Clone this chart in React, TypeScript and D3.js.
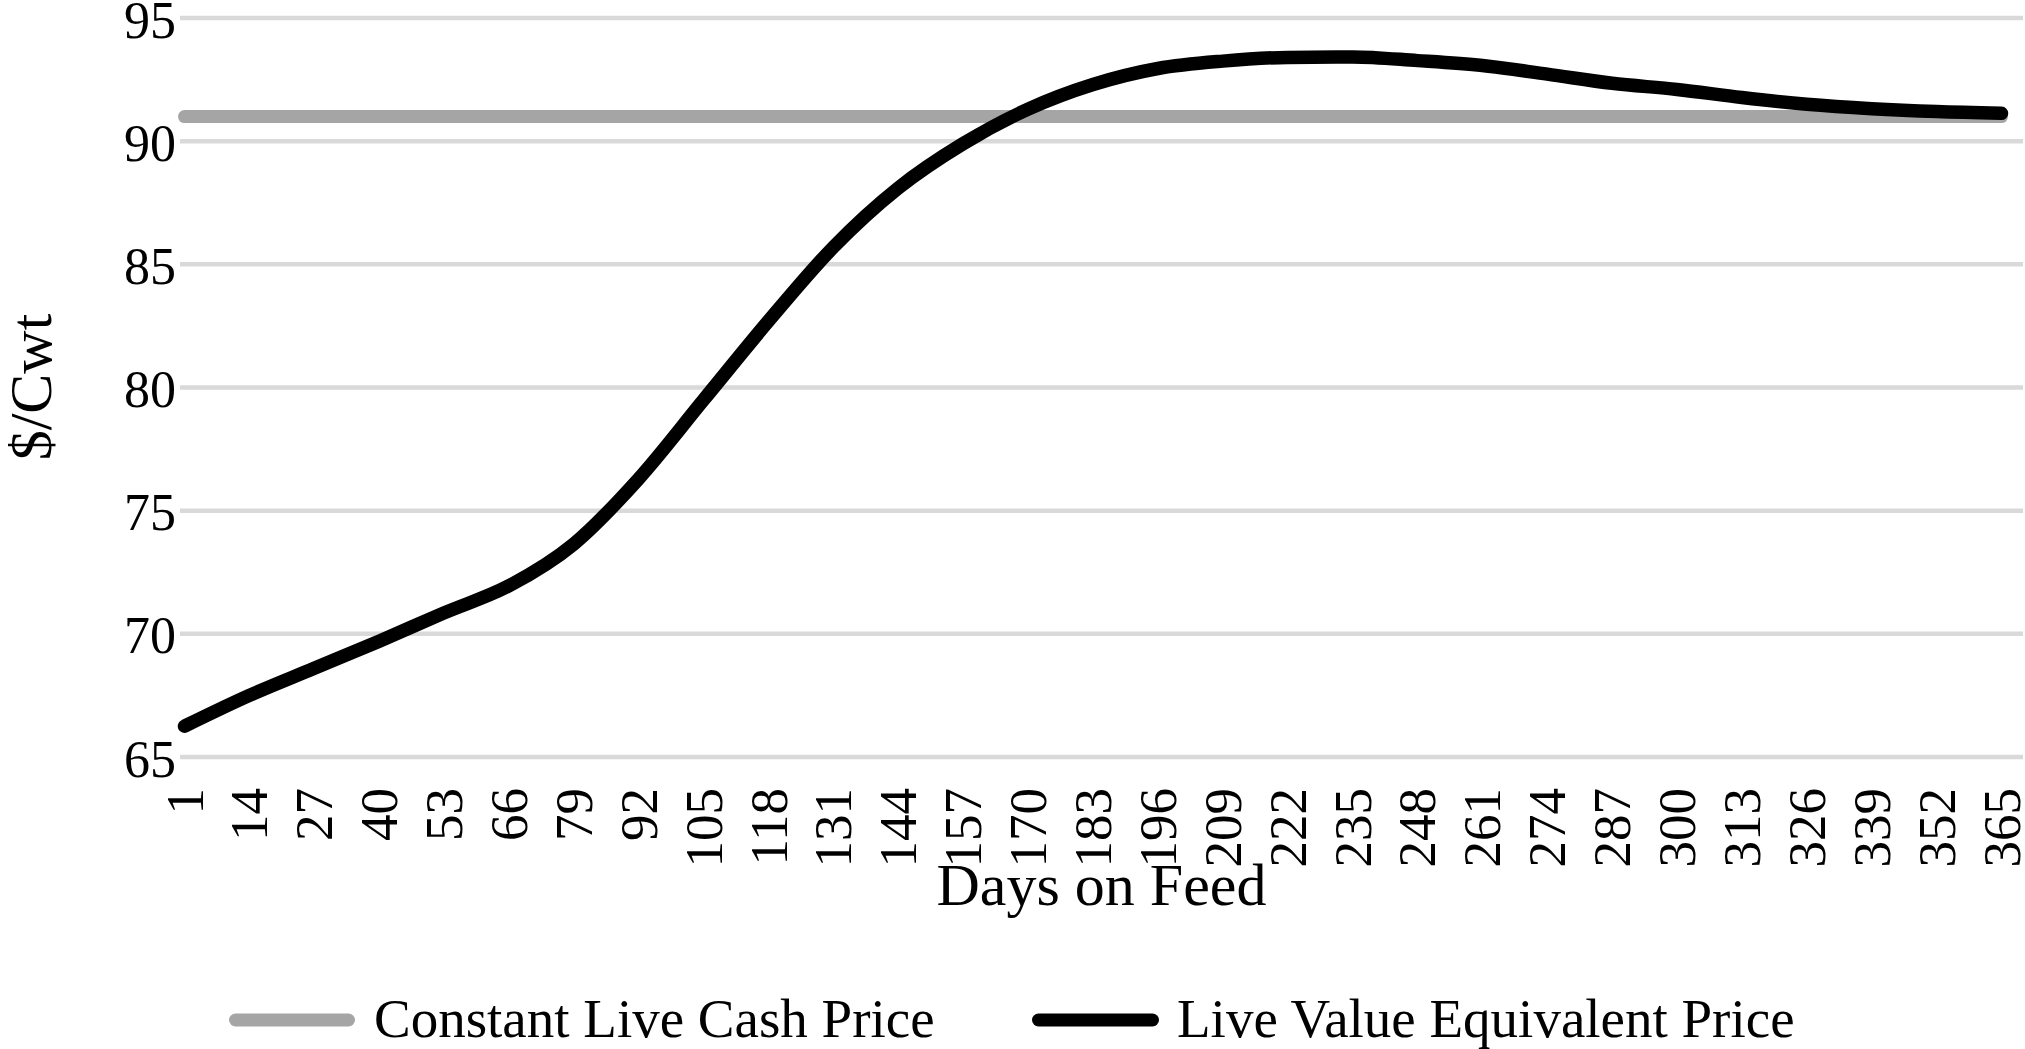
import React from "react";
import * as d3 from "d3";

// ---- data ----
const days: number[] = [1, 14, 27, 40, 53, 66, 79, 92, 105, 118, 131, 144, 157, 170, 183, 196, 209, 222, 235, 248, 261, 274, 287, 300, 313, 326, 339, 352, 365];
const liveValueEquivalent: number[] = [66.25, 67.5, 68.6, 69.7, 70.85, 71.95, 73.65, 76.3, 79.5, 82.7, 85.7, 88.1, 89.9, 91.3, 92.3, 92.95, 93.25, 93.4, 93.42, 93.27, 93.07, 92.72, 92.35, 92.1, 91.77, 91.5, 91.32, 91.2, 91.13];
const constantCashPrice: number = 91;
const yTicks: number[] = [65, 70, 75, 80, 85, 90, 95];
const xTickLabels: number[] = [1, 14, 27, 40, 53, 66, 79, 92, 105, 118, 131, 144, 157, 170, 183, 196, 209, 222, 235, 248, 261, 274, 287, 300, 313, 326, 339, 352, 365];
const seriesNames: string[] = ["Constant Live Cash Price", "Live Value Equivalent Price"];
const seriesColors: string[] = ["#a5a5a5", "#000000"];
const xTitle = "Days on Feed";
const yTitle = "$/Cwt";

const W = 2025;
const H = 1049;
const FONT = "'Liberation Serif', 'Times New Roman', serif";

export default function App() {
  const x = d3.scaleLinear().domain([1, 365]).range([184.5, 2001.5]);
  const y = d3.scaleLinear().domain([65, 95]).range([757, 18]);
  const gridX0 = 180;
  const gridX1 = 2023;

  const lineGen = d3
    .line<[number, number]>()
    .x((d) => x(d[0]))
    .y((d) => y(d[1]))
    .curve(d3.curveMonotoneX);

  const blackPts: [number, number][] = days.map((d, i) => [d, liveValueEquivalent[i]]);
  const greyPts: [number, number][] = days.map((d) => [d, constantCashPrice]);

  const legendItems = [
    { name: seriesNames[0], color: seriesColors[0], x0: 235.5, x1: 348.5, tx: 374 },
    { name: seriesNames[1], color: seriesColors[1], x0: 1038.5, x1: 1152.5, tx: 1177 },
  ];

  return (
    <svg
      width={W}
      height={H}
      viewBox={`0 0 ${W} ${H}`}
      style={{ position: "absolute", left: 0, top: 0, background: "#fff" }}
      fontFamily={FONT}
    >
      <rect x={0} y={0} width={W} height={H} fill="#fff" />
      {/* gridlines */}
      {yTicks.map((t) => (
        <line key={"g" + t} x1={gridX0} x2={gridX1} y1={y(t)} y2={y(t)} stroke="#d9d9d9" strokeWidth={4.5} />
      ))}
      {/* y tick labels */}
      {yTicks.map((t) => (
        <text key={"yl" + t} x={176} y={y(t) + 2} textAnchor="end" dominantBaseline="central" fontSize={52} fill="#000">
          {t}
        </text>
      ))}
      {/* x tick labels */}
      {xTickLabels.map((d) => (
        <text
          key={"xl" + d}
          transform={`translate(${x(d)},788) rotate(-90)`}
          textAnchor="end"
          dominantBaseline="central"
          fontSize={53}
          fill="#000"
        >
          {d}
        </text>
      ))}
      {/* series */}
      <path d={lineGen(greyPts) || ""} fill="none" stroke={seriesColors[0]} strokeWidth={13} strokeLinecap="round" strokeLinejoin="round" />
      <path d={lineGen(blackPts) || ""} fill="none" stroke={seriesColors[1]} strokeWidth={13.5} strokeLinecap="round" strokeLinejoin="round" />
      {/* axis titles */}
      <text x={(gridX0 + gridX1) / 2} y={905} textAnchor="middle" fontSize={60} fill="#000">
        {xTitle}
      </text>
      <text transform={`translate(31,387) rotate(-90)`} textAnchor="middle" dominantBaseline="central" fontSize={60} fill="#000">
        {yTitle}
      </text>
      {/* legend */}
      {legendItems.map((it) => (
        <g key={it.name}>
          <line x1={it.x0} x2={it.x1} y1={1020} y2={1020} stroke={it.color} strokeWidth={13} strokeLinecap="round" />
          <text x={it.tx} y={1037} fontSize={55} fill="#000">
            {it.name}
          </text>
        </g>
      ))}
    </svg>
  );
}
